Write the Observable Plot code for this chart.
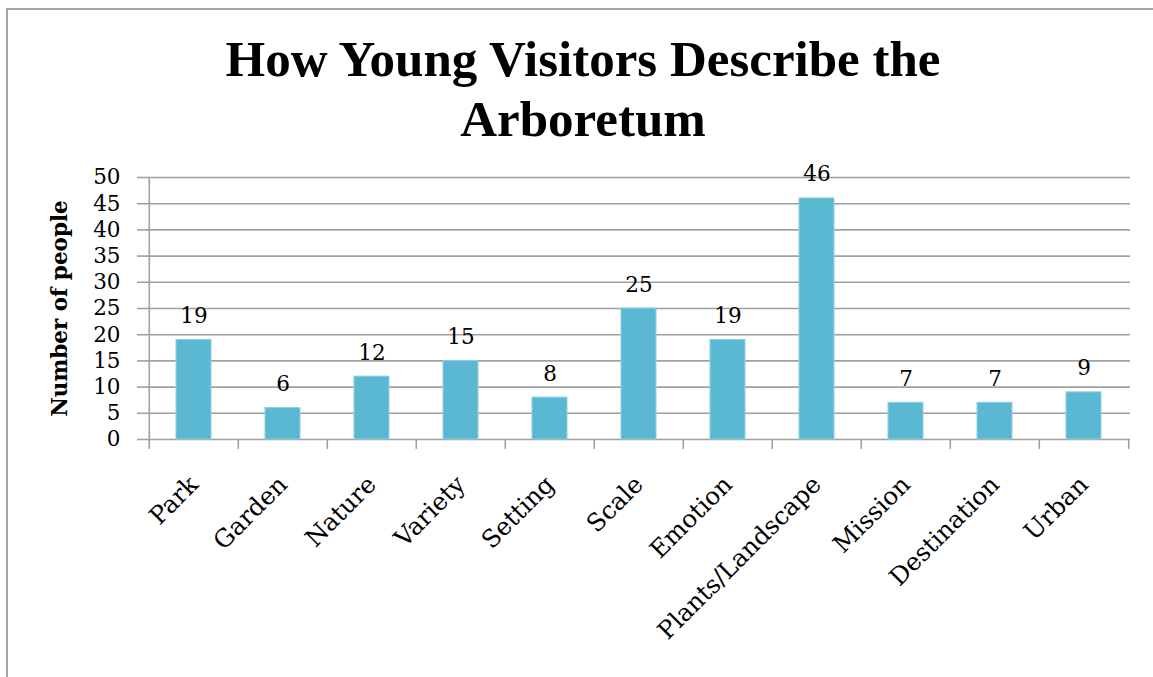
<!DOCTYPE html>
<html>
<head>
<meta charset="utf-8">
<script src="https://cdn.jsdelivr.net/npm/d3@7"></script>
<script src="https://cdn.jsdelivr.net/npm/@observablehq/plot@0.6"></script>
<style>
  html, body { margin: 0; padding: 0; background: #fff; }
  #wrap { position: relative; width: 1153px; height: 677px; overflow: hidden; }
  #border { position: absolute; left: 6px; top: 8px; width: 1200px; height: 700px; border: 2px solid #a6a6a6; box-sizing: border-box; }
  #title { position: absolute; left: 0; width: 1166px; top: 29px; text-align: center;
           font-family: "Liberation Serif", serif; font-weight: bold; font-size: 51px; line-height: 60px; color: #000; }
  #chart { position: absolute; left: 0; top: 0; }
</style>
</head>
<body>
<div id="wrap">
  <div id="border"></div>
  <div id="title">How Young Visitors Describe the<br>Arboretum</div>
  <div id="chart"></div>
</div>
<script>
const categories = ["Park", "Garden", "Nature", "Variety", "Setting", "Scale", "Emotion", "Plants/Landscape", "Mission", "Destination", "Urban"];
const counts = [19, 6, 12, 15, 8, 25, 19, 46, 7, 7, 9];
const yTicks = [0, 5, 10, 15, 20, 25, 30, 35, 40, 45, 50];
const yLabel = "Number of people";

const data = categories.map((c, i) => ({category: c, count: counts[i]}));

const W = 1153, H = 677;
const mL = 146, mR = 23, mT = 177, mB = 238;
const step = (W - mL - mR) / categories.length;
const gray = "#a0a0a0";
const font = "'DejaVu Serif', serif";

const chart = Plot.plot({
  width: W,
  height: H,
  marginLeft: mL,
  marginRight: mR,
  marginTop: mT,
  marginBottom: mB,
  style: { fontFamily: font, fontSize: "21px", color: "#000", background: "transparent", overflow: "visible" },
  x: { domain: categories, paddingInner: 0.61, paddingOuter: 0.305 },
  y: { domain: [0, 50] },
  marks: [
    Plot.gridY(yTicks, { stroke: gray, strokeOpacity: 1, strokeWidth: 1.6 }),
    Plot.axisY(yTicks, { tickSize: 9, tickPadding: 17, stroke: gray, strokeOpacity: 1, strokeWidth: 1.6, fontSize: 21.5, label: null }),
    Plot.ruleX([categories[0]], { x: d => d, dx: -step / 2, y1: 50, y2: -1.9, stroke: gray, strokeWidth: 1.6 }),
    Plot.ruleX(categories.slice(1), { x: d => d, dx: -step / 2, y1: 0, y2: -1.9, stroke: gray, strokeWidth: 1.6 }),
    Plot.ruleX([categories[categories.length - 1]], { x: d => d, dx: step / 2, y1: 0, y2: -1.9, stroke: gray, strokeWidth: 1.6 }),
    Plot.barY(data, { x: "category", y: "count", fill: "#5bb8d2", stroke: "#8fd0e2", strokeWidth: 1 }),
    Plot.text(data, { x: "category", y: "count", text: d => String(d.count), dy: -17, lineAnchor: "bottom", fontSize: 21.5, fill: "#000" }),
    Plot.axisX({ tickSize: 0, tickRotate: -45, tickPadding: 41, fontSize: 24.5, label: null }),
    Plot.text([yLabel], { frameAnchor: "left", rotate: -90, dx: -86, textAnchor: "middle", fontSize: 21.5, fontWeight: "bold", fill: "#000" })
  ]
});
document.getElementById("chart").appendChild(chart);
</script>
</body>
</html>
